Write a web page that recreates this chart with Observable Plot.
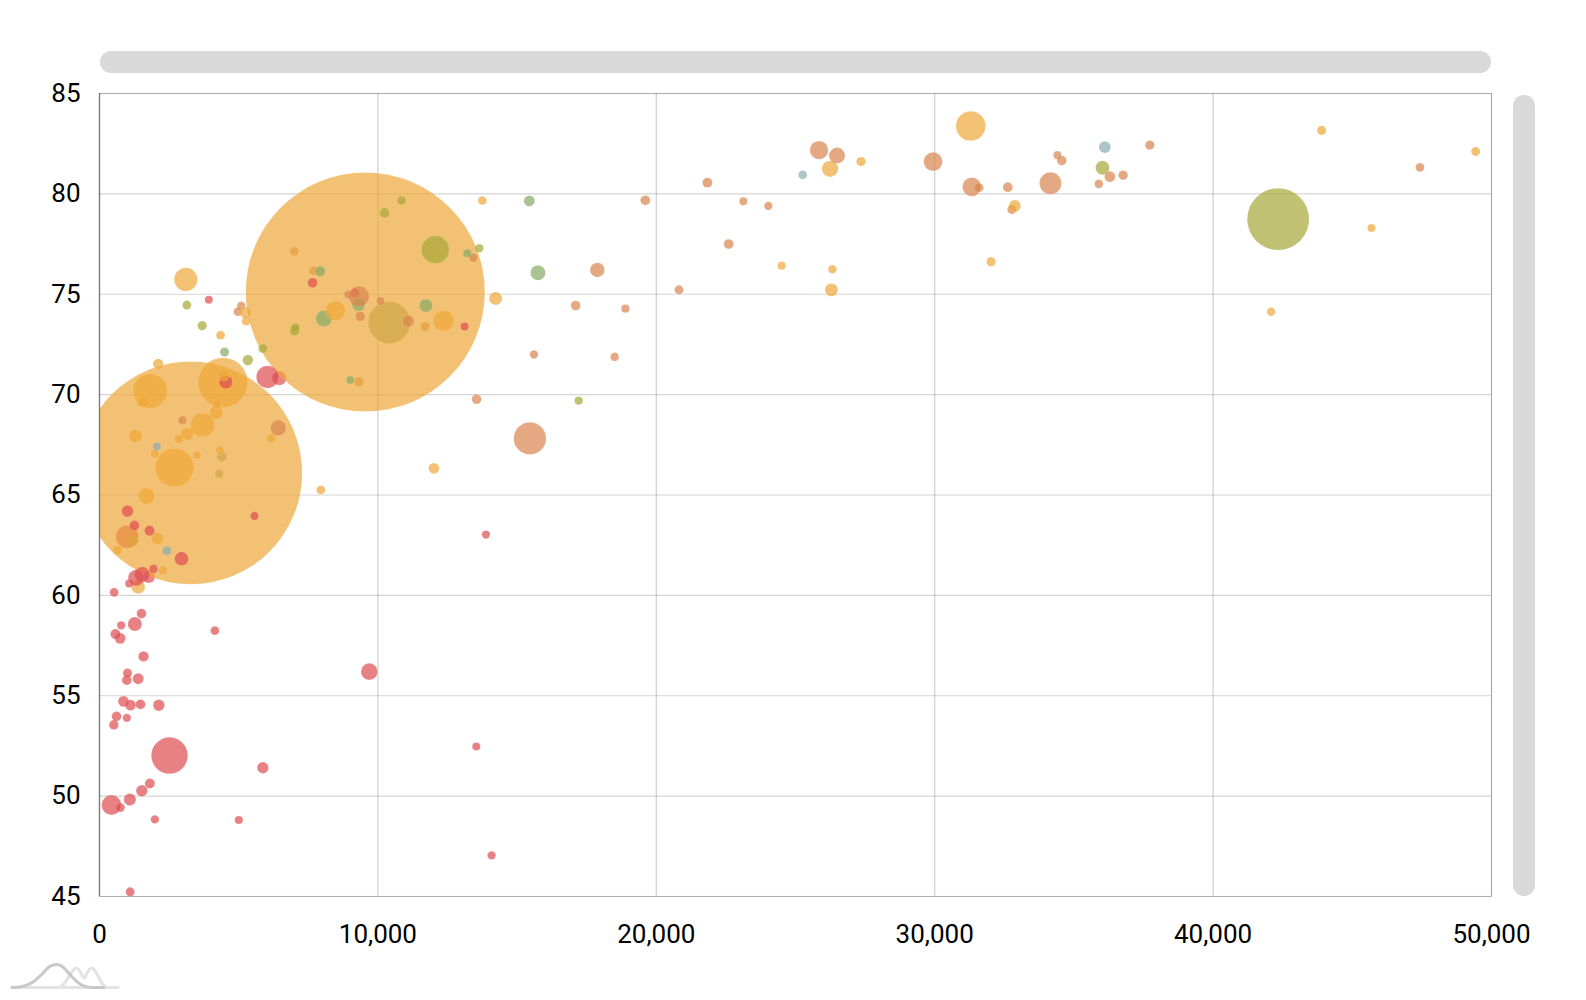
<!DOCTYPE html>
<html>
<head>
<meta charset="utf-8">
<script src="https://cdn.jsdelivr.net/npm/d3@7"></script>
<script src="https://cdn.jsdelivr.net/npm/@observablehq/plot@0.6"></script>
<style>
  html, body { margin: 0; padding: 0; background: #fff; }
  #chart { width: 1586px; height: 1000px; }
</style>
</head>
<body>
<div id="chart"></div>
<script>
// [country, GDP per capita, life expectancy, population (millions)]
const africa = [
  ["Algeria", 6457, 70.82, 36.5], ["Angola", 5868, 51.41, 20.2], ["Benin", 1509, 59.09, 9.4],
  ["Botswana", 14085, 47.05, 2.1], ["Burkina Faso", 1390, 55.85, 17.5], ["Burundi", 514, 53.55, 8.7],
  ["Cameroon", 2131, 54.53, 20.5], ["Cape Verde", 3927, 74.73, 0.5], ["Central African Rep.", 755, 49.43, 4.6],
  ["Chad", 1808, 50.63, 11.8], ["Comoros", 1066, 60.59, 0.8], ["Congo, Dem. Rep.", 431, 49.56, 69.6],
  ["Congo, Rep.", 4144, 58.24, 4.2], ["Cote d'Ivoire", 1521, 50.27, 20.6], ["Egypt", 6036, 70.88, 84.0],
  ["Equatorial Guinea", 13535, 52.47, 0.7], ["Ethiopia", 994, 62.92, 86.5], ["Gabon", 13880, 63.03, 1.6],
  ["Gambia", 779, 58.51, 1.8], ["Ghana", 1772, 60.92, 25.5], ["Guinea", 982, 55.78, 10.5],
  ["Guinea-Bissau", 982, 53.90, 1.6], ["Kenya", 1533, 61.04, 42.7], ["Lesotho", 1988, 48.84, 2.2],
  ["Liberia", 527, 60.15, 4.2], ["Libya", 9174, 75.07, 6.5], ["Madagascar", 1006, 64.20, 22.3],
  ["Malawi", 862, 54.72, 15.9], ["Mali", 1114, 54.53, 16.3], ["Mauritania", 1940, 61.32, 3.6],
  ["Mauritius", 13114, 73.39, 1.3], ["Morocco", 4538, 70.63, 32.6], ["Mozambique", 1090, 49.83, 24.5],
  ["Namibia", 5569, 63.95, 2.4], ["Niger", 743, 57.86, 16.6], ["Nigeria", 2515, 52.02, 166.6],
  ["Rwanda", 1258, 63.48, 11.3], ["Senegal", 1797, 63.23, 13.1], ["Sierra Leone", 1102, 45.23, 6.1],
  ["Somalia", 611, 53.97, 9.8], ["South Africa", 9690, 56.20, 50.7], ["South Sudan", 1473, 54.57, 10.4],
  ["Sudan", 2946, 61.82, 35.3], ["Swaziland", 5005, 48.81, 1.2], ["Tanzania", 1318, 60.87, 47.7],
  ["Togo", 1006, 56.13, 6.3], ["Tunisia", 7653, 75.57, 10.7], ["Uganda", 1270, 58.57, 35.6],
  ["Zambia", 1581, 56.96, 13.9], ["Zimbabwe", 575, 58.07, 13.0]
];
const asia = [
  ["Afghanistan", 1390, 60.42, 33.4], ["Bahrain", 24504, 76.42, 1.4], ["Bangladesh", 1821, 70.18, 152.4],
  ["Bhutan", 6169, 67.82, 0.75], ["Brunei", 45690, 78.30, 0.4], ["Cambodia", 2107, 71.53, 14.5],
  ["China", 9547, 75.11, 1353.6], ["Djibouti", 2275, 61.25, 0.9], ["Eritrea", 647, 62.25, 5.6],
  ["Hong Kong, China", 43896, 83.16, 7.2], ["India", 3277, 66.10, 1258.4], ["Indonesia", 4431, 70.60, 244.8],
  ["Iran", 12360, 73.68, 75.6], ["Iraq", 4192, 69.10, 33.7], ["Israel", 27354, 81.61, 7.7],
  ["Japan", 31295, 83.38, 126.4], ["Jordan", 5271, 73.66, 6.5], ["Kazakhstan", 12012, 66.33, 16.4],
  ["Korea, Dem. Rep.", 1569, 69.65, 24.6], ["Korea, Rep.", 26241, 81.25, 48.6], ["Kuwait", 42085, 74.13, 2.9],
  ["Kyrgyzstan", 1988, 67.06, 5.4], ["Laos", 2850, 67.80, 6.4], ["Lebanon", 13750, 79.67, 4.3],
  ["Malaysia", 14228, 74.79, 29.3], ["Mongolia", 4323, 67.23, 2.8], ["Myanmar", 1689, 64.95, 48.7],
  ["Nepal", 1293, 67.94, 31.0], ["Oman", 26325, 76.24, 2.9], ["Pakistan", 2695, 66.36, 180.0],
  ["Philippines", 3701, 68.49, 96.5], ["Saudi Arabia", 26289, 75.22, 28.7], ["Singapore", 49430, 82.11, 5.3],
  ["Sri Lanka", 5246, 74.09, 21.2], ["Syria", 4466, 70.97, 21.1], ["Taiwan", 32876, 79.40, 23.1],
  ["Tajikistan", 4228, 69.52, 7.1], ["Thailand", 8480, 74.18, 69.9], ["Timor-Leste", 3497, 66.98, 1.2],
  ["Turkmenistan", 7952, 65.25, 5.2], ["United Arab Emirates", 32025, 76.62, 8.1], ["Uzbekistan", 3150, 68.05, 28.1],
  ["Vietnam", 3101, 75.74, 89.7], ["West Bank and Gaza", 4348, 72.96, 4.3], ["Yemen", 2072, 62.84, 25.6]
];
const europe = [
  ["Albania", 7006, 77.14, 3.2], ["Armenia", 5091, 74.43, 3.1], ["Austria", 36768, 80.93, 8.4],
  ["Azerbaijan", 9317, 70.63, 9.4], ["Belarus", 13545, 69.77, 9.5], ["Belgium", 32624, 80.33, 10.8],
  ["Bosnia and Herzegovina", 7689, 76.17, 3.7], ["Bulgaria", 11702, 73.39, 7.4], ["Croatia", 13427, 76.82, 4.4],
  ["Cyprus", 23128, 79.63, 1.1], ["Czech Rep.", 22600, 77.50, 10.6], ["Denmark", 32768, 79.22, 5.6],
  ["Estonia", 18888, 74.28, 1.3], ["Finland", 31594, 80.31, 5.4], ["France", 29941, 81.61, 63.5],
  ["Georgia", 4969, 74.13, 4.3], ["Germany", 34158, 80.53, 82.0], ["Greece", 21835, 80.56, 11.4],
  ["Hungary", 17103, 74.44, 9.9], ["Iceland", 34408, 81.93, 0.3], ["Ireland", 35894, 80.50, 4.6],
  ["Italy", 25846, 82.18, 61.0], ["Latvia", 15605, 72.00, 2.2], ["Lithuania", 18504, 71.88, 3.3],
  ["Macedonia, FYR", 8935, 74.99, 2.1], ["Moldova", 2982, 68.72, 3.5], ["Montenegro", 10096, 74.66, 0.6],
  ["Netherlands", 36290, 80.86, 16.7], ["Norway", 47430, 81.32, 5.0], ["Poland", 17882, 76.21, 38.3],
  ["Portugal", 19606, 79.68, 10.7], ["Romania", 11092, 73.66, 21.4], ["Russia", 15461, 67.82, 142.7],
  ["Serbia", 9366, 73.89, 9.8], ["Slovak Republic", 20815, 75.22, 5.5], ["Slovenia", 24026, 79.40, 2.1],
  ["Spain", 26492, 81.91, 46.8], ["Sweden", 34564, 81.66, 9.5], ["Switzerland", 37727, 82.43, 7.7],
  ["Turkey", 9317, 74.89, 74.5], ["United Kingdom", 31331, 80.35, 62.8], ["Ukraine", 6421, 68.34, 44.9]
];
const northAmerica = [
  ["Canada", 36026, 81.30, 34.7], ["Costa Rica", 10851, 79.67, 4.8], ["Cuba", 10240, 79.05, 11.2],
  ["Dominican Rep.", 7006, 73.18, 10.2], ["El Salvador", 5868, 72.30, 6.3], ["Guatemala", 5329, 71.72, 15.1],
  ["Haiti", 1210, 62.70, 10.3], ["Honduras", 3690, 73.43, 7.9], ["Jamaica", 7040, 73.34, 2.8],
  ["Mexico", 12062, 77.22, 116.1], ["Nicaragua", 3137, 74.46, 6.0], ["Panama", 13642, 77.29, 3.6],
  ["Trinidad and Tobago", 17211, 69.70, 1.4], ["United States", 42337, 78.74, 315.8]
];
const southAmerica = [
  ["Argentina", 15749, 76.07, 41.1], ["Bolivia", 4395, 66.91, 10.2], ["Brazil", 10408, 73.59, 198.4],
  ["Chile", 15439, 79.65, 17.4], ["Colombia", 8060, 73.79, 48.3], ["Ecuador", 7929, 76.14, 14.9],
  ["Guyana", 4300, 66.06, 0.8], ["Paraguay", 4491, 72.12, 6.7], ["Peru", 9306, 74.48, 29.7],
  ["Suriname", 9007, 70.73, 0.5], ["Uruguay", 13211, 77.04, 3.4], ["Venezuela", 11724, 74.44, 29.9]
];
const oceania = [
  ["Australia", 36110, 82.33, 22.9], ["New Zealand", 25258, 80.95, 4.5],
  ["Papua New Guinea", 2419, 62.22, 7.2], ["Solomon Islands", 2060, 67.41, 0.6]
];

const continentNames = ["Africa", "Asia", "Europe", "North America", "South America", "Oceania"];
const continentColors = ["#de4c4f", "#eea638", "#d8854f", "#a7a737", "#86a965", "#8aabb0"];
const xTicks = [0, 10000, 20000, 30000, 40000, 50000];
const yTicks = [45, 50, 55, 60, 65, 70, 75, 80, 85];

const groups = [africa, asia, europe, northAmerica, southAmerica, oceania];
const data = groups.flatMap((rows, i) => rows.map(([name, gdp, life, pop]) =>
  ({name, continent: continentNames[i], gdp, life, pop})))
  .sort((a, b) => d3.ascending(a.name, b.name));

const W = 1586, H = 1000;
const mL = 99, mR = 95, mT = 93, mB = 104;

const chart = Plot.plot({
  width: W, height: H,
  marginLeft: mL, marginRight: mR, marginTop: mT, marginBottom: mB,
  style: {fontFamily: "Roboto, 'Noto Sans', sans-serif", fontSize: "26px", color: "#000", background: "#fff", overflow: "visible"},
  x: {domain: [0, 50000], label: null},
  y: {domain: [45, 85], label: null},
  r: {type: "linear", domain: [0, 1354], range: [4, 119.6]},
  color: {domain: continentNames, range: continentColors},
  marks: [
    Plot.gridX(xTicks, {stroke: "#000", strokeOpacity: 0.19, strokeWidth: 1.2}),
    Plot.gridY(yTicks, {stroke: "#000", strokeOpacity: 0.17, strokeWidth: 1.2}),
    Plot.frame({stroke: "#000", strokeOpacity: 0.17, strokeWidth: 1.2}),
    Plot.dot(data, {x: "gdp", y: "life", r: "pop", fill: "continent", fillOpacity: 0.7,
      stroke: "#fff", strokeOpacity: 0.25, strokeWidth: 0.5, sort: null, clip: true, title: "name"}),
    Plot.ruleX([0], {stroke: "#000", strokeOpacity: 0.28, strokeWidth: 1.5}),
    Plot.axisX(xTicks, {tickSize: 0, tickPadding: 28, fontSize: 26, tickFormat: d3.format(","), label: null}),
    Plot.axisY(yTicks, {tickSize: 0, tickPadding: 19, fontSize: 26, label: null})
  ]
});

document.getElementById("chart").appendChild(chart);

// scrollbars and logo decoration
const svg = d3.select(chart);
svg.append("rect").attr("x", 100).attr("y", 51).attr("width", W - mR - 100).attr("height", 22)
  .attr("rx", 11).attr("fill", "#d9d9d9");
svg.append("rect").attr("x", 1513).attr("y", 95).attr("width", 22).attr("height", 801)
  .attr("rx", 11).attr("fill", "#d9d9d9");

const logo = svg.append("g").attr("fill", "none").attr("stroke-width", 3).attr("stroke-linecap", "round");
logo.append("path").attr("d", "M12,987.5 L118,987.5").attr("stroke", "#e3e3e3");
logo.append("path").attr("d", "M58,987.5 C66,987.5 70,970 76,968 C80,967 82,978 84,978 C86,978 88,967 92,968 C98,970 100,987.5 108,987.5")
  .attr("stroke", "#e3e3e3");
logo.append("path").attr("d", "M12,987.5 C30,987.5 36,980 44,972 C50,964 58,962 64,968 C72,976 78,987.5 92,987.5 L104,987.5")
  .attr("stroke", "#c8c8c8");
</script>
</body>
</html>
